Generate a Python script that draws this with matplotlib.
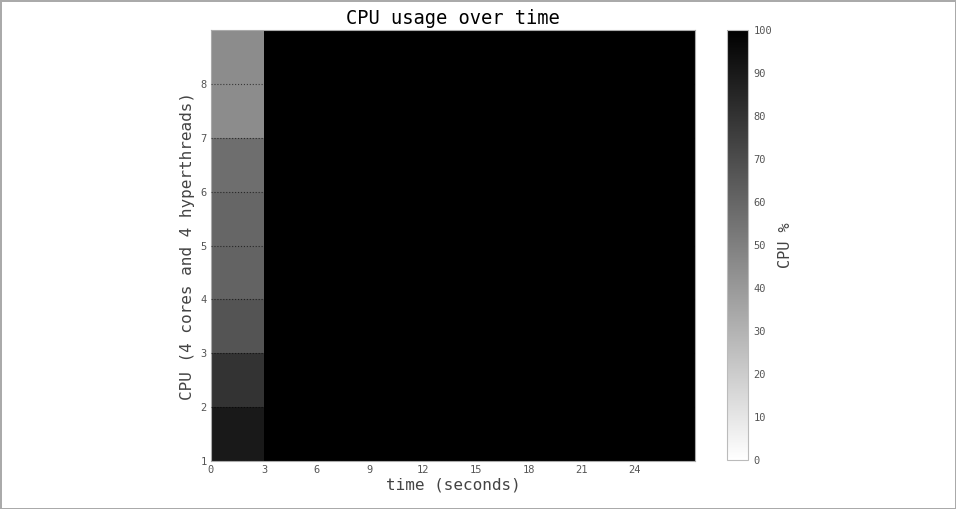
import numpy as np
import matplotlib.pyplot as plt

plt.rcParams['font.family'] = 'DejaVu Sans Mono'

# time bin edges (seconds) and cpu rows
time_edges = [0, 3, 6, 9, 12, 15, 18, 21, 24, 27.4]
cpu_edges = [1, 2, 3, 4, 5, 6, 7, 8, 9]
# CPU % in the first 3 s window, per cpu (1..8); every later window is 100
first_window = [90, 80, 67, 61, 60, 57, 45, 45]
later_window = 100

usage = np.full((len(cpu_edges) - 1, len(time_edges) - 1), float(later_window))
usage[:, 0] = first_window

fig = plt.figure(figsize=(9.56, 5.09), dpi=100)
fig.patch.set_edgecolor('#aaaaaa')
fig.patch.set_linewidth(1.0)
ax = fig.add_axes([211/956, 48/509, 484/956, 431/509])
cax = fig.add_axes([727/956, 49/509, 21/956, 430/509])

mesh = ax.pcolormesh(time_edges, cpu_edges, usage, cmap='gray_r', vmin=0, vmax=100)
ax.set_xlim(0, 27.4)
ax.set_ylim(1, 9)
ax.set_xticks(range(0, 27, 3))
ax.set_yticks(range(1, 9))
ax.grid(True, axis='y', color='black', linestyle=':', linewidth=0.8, alpha=0.6)
ax.set_axisbelow(False)
ax.tick_params(length=0, labelsize=7.5, labelcolor='#555555', pad=3)
for s in ax.spines.values():
    s.set_color('#aaaaaa')
ax.set_xlabel('time (seconds)', fontsize=11.5, color='#444444', labelpad=2)
ax.set_ylabel('CPU (4 cores and 4 hyperthreads)', fontsize=11.5, color='#444444', labelpad=4)
ax.set_title('CPU usage over time', fontsize=13.5, pad=4)

cb = fig.colorbar(mesh, cax=cax, ticks=range(0, 101, 10))
cb.outline.set_edgecolor('#bbbbbb')
cb.ax.tick_params(length=0, labelsize=7.5, labelcolor='#555555', pad=4)
cb.set_label('CPU %', fontsize=11, color='#444444', labelpad=4)

fig.savefig('out.png', dpi=100)
